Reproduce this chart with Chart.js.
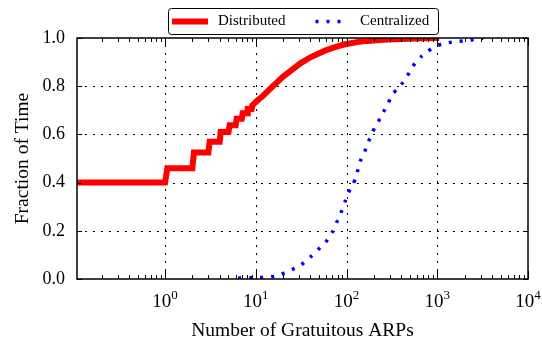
<!DOCTYPE html>
<html>
<head>
<meta charset="utf-8">
<script src="https://cdn.jsdelivr.net/npm/chart.js@4.4.1/dist/chart.umd.min.js"></script>
<style>
  html, body { margin: 0; padding: 0; background: #fff; }
  canvas { display: block; }
</style>
</head>
<body>
<canvas id="cdf" width="542" height="338"></canvas>
<script>
// CDF of gratuitous ARPs
const distX = [0.1, 1, 1.06, 2, 2.08, 3, 3.1, 4, 4.1, 5, 5.15, 6, 6.15, 7, 7.15, 8, 8.15, 9, 9.15, 10, 12, 14, 17, 20, 25, 31, 40, 50, 60, 72, 85, 100, 130, 170, 250, 400, 600, 900, 1050];
const distY = [0.4, 0.4, 0.46, 0.46, 0.525, 0.525, 0.57, 0.57, 0.61, 0.61, 0.638, 0.638, 0.665, 0.665, 0.688, 0.688, 0.705, 0.705, 0.72, 0.735, 0.76, 0.785, 0.815, 0.84, 0.868, 0.895, 0.92, 0.937, 0.95, 0.96, 0.968, 0.975, 0.983, 0.988, 0.993, 0.996, 0.998, 1.0, 1.0];

const centX = [6.4, 8.6, 11, 14, 17.5, 22, 27, 32, 41, 51, 61, 71, 80, 89, 96, 104, 117, 126, 134, 144, 159, 172, 190, 205, 234, 252, 286, 316, 370, 417, 500, 567, 676, 788, 942, 1124, 1448, 2172, 2800, 3200];
const centY = [0.004, 0.005, 0.006, 0.008, 0.014, 0.03, 0.045, 0.06, 0.095, 0.13, 0.16, 0.2, 0.245, 0.285, 0.32, 0.355, 0.39, 0.42, 0.455, 0.495, 0.53, 0.565, 0.6, 0.63, 0.665, 0.69, 0.725, 0.765, 0.79, 0.815, 0.86, 0.895, 0.925, 0.945, 0.965, 0.975, 0.983, 0.99, 0.996, 1.0];

const seriesLabels = ['Distributed', 'Centralized'];
const xDecades = [1, 10, 100, 1000, 10000];
const xExponents = ['0', '1', '2', '3', '4'];
const yTicks = [0, 0.2, 0.4, 0.6, 0.8, 1.0];

const SERIF = "'Liberation Serif', 'Times New Roman', serif";

const toPoints = (xs, ys) => xs.map((x, i) => ({ x: x, y: ys[i] }));

// dotted grid, inward ticks, frame, superscript x labels and boxed legend
const framePlugin = {
    id: 'frame',
    beforeDatasetsDraw(chart) {
        const { ctx, chartArea: a, scales: { x, y } } = chart;
        ctx.save();
        ctx.strokeStyle = '#000';
        ctx.lineWidth = 1;
        ctx.setLineDash([2, 6]);
        xDecades.slice(0, -1).forEach(v => {
            const px = Math.round(x.getPixelForValue(v)) + 0.5;
            ctx.beginPath(); ctx.moveTo(px, a.bottom); ctx.lineTo(px, a.top); ctx.stroke();
        });
        yTicks.slice(1, -1).forEach(v => {
            const py = Math.round(y.getPixelForValue(v)) + 0.5;
            ctx.beginPath(); ctx.moveTo(a.left, py); ctx.lineTo(a.right, py); ctx.stroke();
        });
        ctx.restore();
    },
    afterDatasetsDraw(chart) {
        const { ctx, chartArea: a, scales: { x, y } } = chart;
        ctx.save();
        ctx.strokeStyle = '#000';
        ctx.lineWidth = 1;
        ctx.setLineDash([]);

        // x ticks: decades long, the rest short, on bottom and top
        for (let d = 0.1; d < 20000; d *= 10) {
            for (let m = 1; m <= 9; m++) {
                const v = m * d;
                if (v < x.min || v > x.max) continue;
                const len = m === 1 ? 8 : 4;
                const px = Math.round(x.getPixelForValue(v)) + 0.5;
                ctx.beginPath();
                ctx.moveTo(px, a.bottom); ctx.lineTo(px, a.bottom - len);
                ctx.moveTo(px, a.top); ctx.lineTo(px, a.top + len);
                ctx.stroke();
            }
        }
        // y ticks on left and right
        yTicks.forEach(v => {
            const py = Math.round(y.getPixelForValue(v)) + 0.5;
            ctx.beginPath();
            ctx.moveTo(a.left, py); ctx.lineTo(a.left + 5, py);
            ctx.moveTo(a.right, py); ctx.lineTo(a.right - 5, py);
            ctx.stroke();
        });

        // frame
        ctx.lineWidth = 1.5;
        ctx.strokeRect(a.left, a.top, a.right - a.left, a.bottom - a.top);

        // x tick labels as 10 with a raised exponent
        ctx.fillStyle = '#000';
        ctx.textBaseline = 'alphabetic';
        ctx.textAlign = 'left';
        xDecades.forEach((v, i) => {
            ctx.font = '19px ' + SERIF;
            const wBase = ctx.measureText('10').width;
            ctx.font = '13px ' + SERIF;
            const wExp = ctx.measureText(xExponents[i]).width;
            const left = x.getPixelForValue(v) - (wBase + wExp) / 2;
            ctx.font = '19px ' + SERIF;
            ctx.fillText('10', left, a.bottom + 28);
            ctx.font = '13px ' + SERIF;
            ctx.fillText(xExponents[i], left + wBase, a.bottom + 20);
        });

        // legend box
        const box = { left: 168, top: 8, width: 270, height: 26 };
        ctx.fillStyle = '#fff';
        ctx.beginPath();
        ctx.roundRect(box.left + 0.5, box.top + 0.5, box.width, box.height, 3);
        ctx.fill();
        ctx.lineWidth = 1;
        ctx.strokeStyle = '#000';
        ctx.stroke();

        const cy = box.top + box.height / 2 + 0.5;
        const items = [
            { ds: chart.data.datasets[0], x0: 172, x1: 208, tx: 218 },
            { ds: chart.data.datasets[1], x0: 315.5, x1: 341, tx: 360 }
        ];
        ctx.font = '15px ' + SERIF;
        ctx.textBaseline = 'middle';
        items.forEach(it => {
            ctx.strokeStyle = it.ds.borderColor;
            ctx.lineWidth = it.ds.borderWidth;
            ctx.setLineDash(it.ds.borderDash || []);
            ctx.lineCap = 'butt';
            ctx.beginPath(); ctx.moveTo(it.x0, cy); ctx.lineTo(it.x1, cy); ctx.stroke();
            ctx.fillStyle = '#000';
            ctx.fillText(it.ds.label, it.tx, cy);
        });
        ctx.restore();
    }
};

new Chart(document.getElementById('cdf'), {
    type: 'line',
    data: {
        datasets: [{
            label: seriesLabels[0],
            data: toPoints(distX, distY),
            borderColor: '#ff0000',
            borderWidth: 6,
            borderJoinStyle: 'miter',
            pointRadius: 0,
            tension: 0,
            clip: 0
        }, {
            label: seriesLabels[1],
            data: toPoints(centX, centY),
            borderColor: '#0000ff',
            borderWidth: 3.5,
            borderDash: [3, 8],
            pointRadius: 0,
            tension: 0.2,
            clip: 0
        }]
    },
    plugins: [framePlugin],
    options: {
        responsive: false,
        animation: false,
        layout: { padding: { top: 38, right: 14, bottom: 0, left: 0 } },
        plugins: {
            legend: { display: false },
            tooltip: { enabled: false }
        },
        scales: {
            x: {
                type: 'logarithmic',
                min: 0.107,
                max: 10000,
                grid: { display: false, drawTicks: false },
                border: { display: false },
                ticks: { display: false },
                title: {
                    display: true,
                    text: 'Number of Gratuitous ARPs',
                    color: '#000',
                    font: { family: SERIF, size: 19.5 },
                    padding: { top: 0, bottom: -5 }
                },
                afterFit: s => { s.height = 59; }
            },
            y: {
                min: 0,
                max: 1,
                grid: { display: false, drawTicks: false },
                border: { display: false },
                ticks: {
                    stepSize: 0.2,
                    padding: 12,
                    color: '#000',
                    font: { family: SERIF, size: 18 },
                    callback: v => v.toFixed(1)
                },
                title: {
                    display: true,
                    text: 'Fraction of Time',
                    color: '#000',
                    font: { family: SERIF, size: 19.5 },
                    padding: { top: 10.8, bottom: 0 }
                },
                afterFit: s => { s.width = 77; }
            }
        }
    }
});
</script>
</body>
</html>
